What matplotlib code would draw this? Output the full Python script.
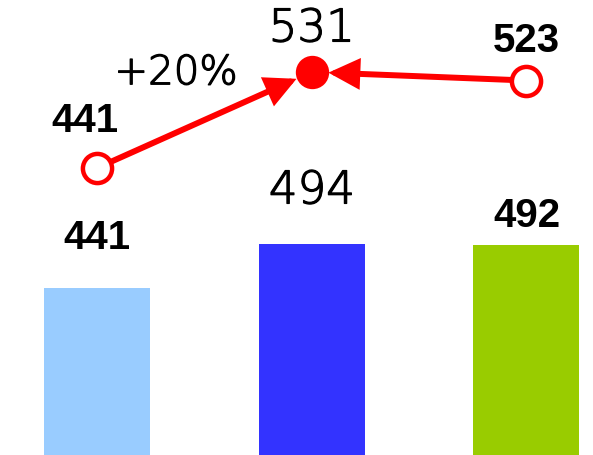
import matplotlib.pyplot as plt
import matplotlib
import matplotlib.patheffects as pe

matplotlib.rcParams['font.family'] = ['Liberation Sans', 'DejaVu Sans']

# bar values and their colours
bar_values = [441, 494, 492]
bar_colors = ['#99CCFF', '#3333FF', '#99CC00']
# values on the red line
line_values = [441, 531, 523]
change_label = '+20%'

x = list(range(len(bar_values)))
# thin label style, slightly thickened with a stroke
thin = dict(family=['DejaVu Sans'], fontweight=200, color='black',
            path_effects=[pe.withStroke(linewidth=0.9, foreground='black')])

fig = plt.figure(figsize=(5.93, 4.55), dpi=100)
ax = fig.add_axes([0, 0, 1, 1])
ax2 = ax.twinx()
ax2.set_position([0, 0, 1, 1])

# bars
ax.bar(x, bar_values, width=0.494, color=bar_colors, zorder=2)
ax.set_xlim(-0.452, 2.31)
ax.set_ylim(242, 784.7)

# bar labels: bold for the outer bars, thin for the middle one
bar_offsets = [36, 38, 21]
for i, v in enumerate(bar_values):
    if i == 1:
        ax.annotate(str(v), (x[i], v), xytext=(0, bar_offsets[i]), textcoords='offset points',
                    ha='center', va='center', fontsize=32.5, **thin)
    else:
        ax.annotate(str(v), (x[i], v), xytext=(0, bar_offsets[i]), textcoords='offset points',
                    ha='center', va='center', fontsize=29, fontweight='bold', color='black')

# line on its own scale
ax2.set_ylim(171.9, 598.5)
ax2.set_xlim(-0.452, 2.31)

red = '#FF0000'
arrow_style = dict(arrowstyle='-|>,head_length=0.8,head_width=0.4', lw=4.3, color=red,
                   shrinkA=0, shrinkB=12, mutation_scale=20, joinstyle='miter')
ax2.annotate('', xy=(x[1], line_values[1]), xytext=(x[0], line_values[0]),
             arrowprops=arrow_style, zorder=3)
ax2.annotate('', xy=(x[1], line_values[1]), xytext=(x[2], line_values[2]),
             arrowprops=arrow_style, zorder=3)

# open markers at the ends, filled one in the middle
ax2.plot([x[0], x[2]], [line_values[0], line_values[2]], 'o', ms=21, mew=3.2,
         mec=red, mfc='white', ls='none', zorder=5)
ax2.plot([x[1]], [line_values[1]], 'o', ms=24, mew=0, color=red, zorder=5)

# line labels
ax2.annotate(str(line_values[0]), (x[0], line_values[0]), xytext=(-8.6, 34), textcoords='offset points',
             ha='center', va='center', fontsize=29, fontweight='bold')
ax2.annotate(str(line_values[1]), (x[1], line_values[1]), xytext=(0, 31), textcoords='offset points',
             ha='center', va='center', fontsize=32.5, **thin)
ax2.annotate(str(line_values[2]), (x[2], line_values[2]), xytext=(0, 28.4), textcoords='offset points',
             ha='center', va='center', fontsize=29, fontweight='bold')

# percentage change near the rising arrow
mid_x = (x[0] + x[1]) / 2
mid_y = (line_values[0] + line_values[1]) / 2
ax2.annotate(change_label, (mid_x, mid_y), xytext=(-20.5, 34), textcoords='offset points',
             ha='center', va='center', fontsize=29, **thin)

ax.axis('off')
ax2.axis('off')

plt.savefig('out.png', dpi=100)
